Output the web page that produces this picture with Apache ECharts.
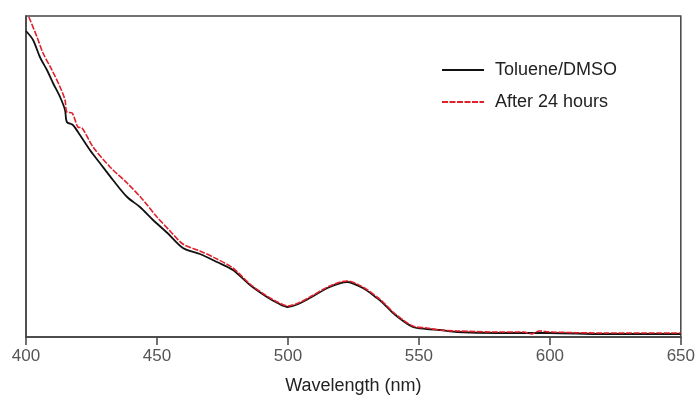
<!DOCTYPE html>
<html>
<head>
<meta charset="utf-8">
<script src="https://cdn.jsdelivr.net/npm/echarts@6/dist/echarts.min.js"></script>
<style>
  html, body { margin: 0; padding: 0; background: #fff; }
  #chart { width: 698px; height: 408px; }
</style>
</head>
<body>
<div id="chart"></div>
<script>
// wavelength ticks
var xTicks = [400, 450, 500, 550, 600, 650];

// Toluene/DMSO (black)
var blackWl  = [400, 402.7, 405.3, 408, 410.3, 413, 414.9, 415.6, 417.9, 420.6, 424.4, 428.2, 433.2, 438.6, 443.5, 448.5, 454, 459.9, 466.4, 472.9, 479, 485.5, 492, 496, 500, 504, 508.4, 516, 522.5, 528.6, 534, 536.3, 541, 547.7, 553, 558, 564.5, 580, 600, 620, 650];
var blackAbs = [306, 297, 280, 267, 254, 240, 227, 215, 212, 202, 187, 174, 157, 140, 130, 117, 104, 89, 83, 75, 67, 52, 40, 34, 30, 33, 39, 50, 55, 49, 39, 34, 22, 10, 8, 7, 5, 4, 4, 3, 3];

// After 24 hours (red)
var redWl  = [401.1, 404.2, 406.5, 409.9, 413, 414.9, 415.6, 417.6, 419.8, 421.4, 425.6, 432.1, 438.6, 444.7, 450, 455, 459.9, 466.4, 472.9, 479, 485.5, 492, 496, 500, 504, 508.4, 516, 522.5, 528.6, 534, 536.3, 541, 547.7, 553, 558, 564.5, 580, 590, 593, 596, 600, 620, 650];
var redAbs = [320, 300, 284, 267, 250, 237, 225, 224, 210, 209, 190, 170, 154, 137, 120, 106, 93, 86, 78, 69, 53, 41, 35, 31, 34, 40, 51, 56, 50, 40, 35, 23, 11, 9, 7, 6, 5, 5, 3, 6, 5, 4, 4];

function pairs(xs, ys) {
  var out = [];
  for (var i = 0; i < xs.length; i++) out.push([xs[i], ys[i]]);
  return out;
}

var chart = echarts.init(document.getElementById("chart"));
chart.setOption({
  animation: false,
  grid: {
    left: 26,
    right: 17,
    top: 16,
    bottom: 71,
    show: true,
    borderColor: "#444",
    borderWidth: 1.5
  },
  legend: {
    orient: "vertical",
    left: 441,
    top: 61,
    padding: 0,
    itemWidth: 42,
    itemHeight: 14,
    itemGap: 14,
    itemStyle: { opacity: 0 },
    textStyle: {
      fontFamily: "Liberation Sans",
      fontSize: 18,
      color: "#222",
      padding: [0, 0, 0, 6]
    },
    data: ["Toluene/DMSO", "After 24 hours"]
  },
  xAxis: {
    type: "value",
    min: 400,
    max: 650,
    interval: 50,
    name: "Wavelength (nm)",
    nameLocation: "middle",
    nameGap: 40,
    nameTextStyle: {
      fontFamily: "Liberation Sans",
      fontSize: 18,
      color: "#222"
    },
    axisLine: { show: true, lineStyle: { color: "#444", width: 1.5 } },
    axisTick: { show: true, length: 8, lineStyle: { color: "#444", width: 1.5 } },
    axisLabel: {
      margin: 11,
      fontFamily: "Liberation Sans",
      fontSize: 17,
      color: "#555"
    },
    splitLine: { show: false }
  },
  yAxis: {
    type: "value",
    min: 0,
    max: 321,
    axisLine: { show: true, lineStyle: { color: "#444", width: 1.5 } },
    axisTick: { show: false },
    axisLabel: { show: false },
    splitLine: { show: false }
  },
  series: [
    {
      name: "Toluene/DMSO",
      type: "line",
      data: pairs(blackWl, blackAbs),
      symbol: "none",
      smooth: 0.3,
      itemStyle: { color: "#111" },
      lineStyle: { color: "#111", width: 1.8 }
    },
    {
      name: "After 24 hours",
      type: "line",
      data: pairs(redWl, redAbs),
      symbol: "none",
      smooth: 0.3,
      itemStyle: { color: "#e0202a" },
      lineStyle: { color: "#e0202a", width: 1.6, type: [6, 1.5] }
    }
  ]
});
</script>
</body>
</html>
